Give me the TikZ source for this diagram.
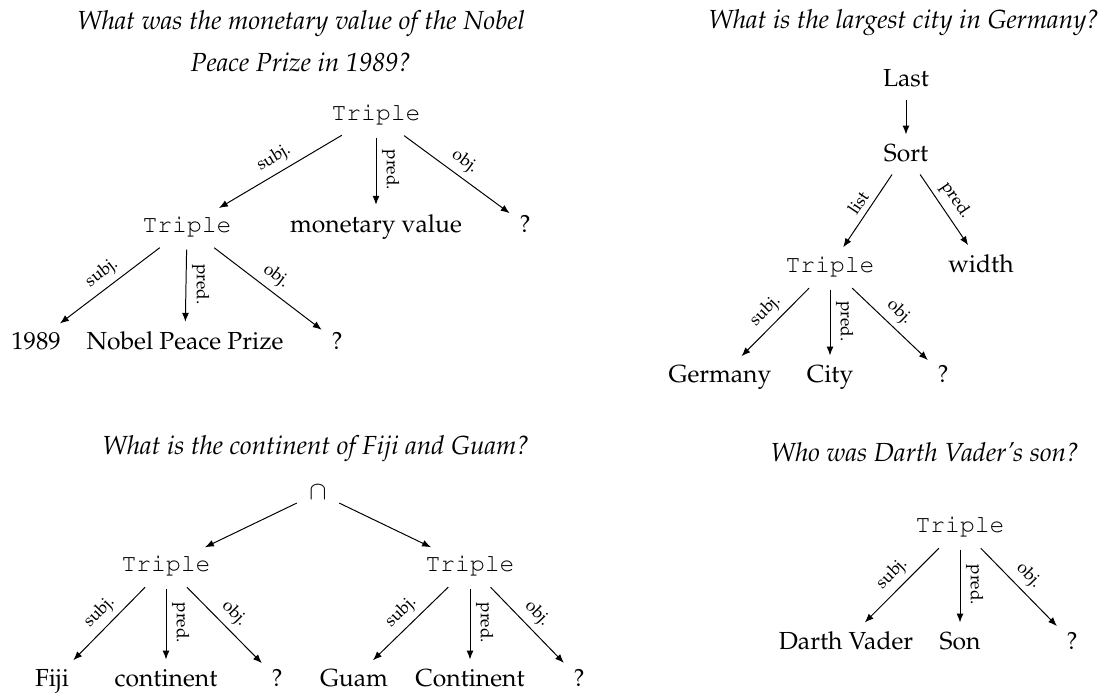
\documentclass[tikz,border=0pt]{standalone}
\usepackage[T1]{fontenc}
\usepackage{mathpazo}
\usepackage{courier}
\usetikzlibrary{arrows.meta}

\begin{document}
\begin{tikzpicture}[x=0.405pt, y=-0.405pt,
  every node/.style={inner sep=3pt},
  leaf/.style={font=\fontsize{10}{12}\selectfont, anchor=base},
  op/.style={font=\fontsize{10}{12}\selectfont\ttfamily, anchor=base},
  ask/.style={font=\fontsize{10.6}{12}\selectfont\itshape, anchor=base, inner sep=0pt},
  lbl/.style={font=\fontsize{7}{8}\selectfont, inner sep=2.2pt},
  link/.style={-{Latex[length=3.6pt, width=2.8pt]}, line width=0.4pt,
               shorten <=2pt, shorten >=1pt},
  vlbl/.style={lbl, midway, rotate=-90, anchor=south}]

\useasboundingbox (0,0) rectangle (1110,695);

% ---- What was the monetary value of the Nobel Peace Prize in 1989?
\node[ask] (q1a) at (301,30) {\makebox[181.4pt][s]{What was the monetary value of the Nobel}};
\node[ask] (q1b) at (301,72) {Peace Prize in 1989?};
\node[op]   (t1)  at (376,121) {Triple};
\node[op]   (t2)  at (187,233) {Triple};
\node[leaf] (mv)  at (376,233) {monetary value};
\node[leaf] (o1)  at (525,233) {?};
\node[leaf] (yr)  at (36,350)  {1989};
\node[leaf] (npp) at (185,350) {Nobel Peace Prize};
\node[leaf] (o2)  at (337,350) {?};
\draw[link] (t1) -- node[lbl, midway, sloped, above] {subj.} (t2);
\draw[link] (t1) -- node[vlbl] {pred.} (mv);
\draw[link] (t1) -- node[lbl, midway, sloped, above] {obj.} (o1);
\draw[link] (t2) -- node[lbl, midway, sloped, above] {subj.} (yr);
\draw[link] (t2) -- node[vlbl] {pred.} (npp);
\draw[link] (t2) -- node[lbl, midway, sloped, above] {obj.} (o2);

% ---- What is the largest city in Germany?
\node[ask] (q2) at (904,29) {What is the largest city in Germany?};
\node[leaf] (last) at (906,87)  {Last};
\node[leaf] (sort) at (906,162) {Sort};
\node[op]   (t3)   at (830,273) {Triple};
\node[leaf] (wd)   at (981,273) {width};
\node[leaf] (ger)  at (720,383) {Germany};
\node[leaf] (city) at (830,383) {City};
\node[leaf] (o3)   at (943,383) {?};
\draw[link] (last) -- (sort);
\draw[link] (sort) -- node[lbl, midway, sloped, above] {list} (t3);
\draw[link] (sort) -- node[lbl, midway, sloped, above] {pred.} (wd);
\draw[link] (t3) -- node[lbl, midway, sloped, above] {subj.} (ger);
\draw[link] (t3) -- node[vlbl] {pred.} (city);
\draw[link] (t3) -- node[lbl, midway, sloped, above] {obj.} (o3);

% ---- What is the continent of Fiji and Guam?
\node[ask] (q3) at (316,455) {What is the continent of Fiji and Guam?};
\node[leaf] (cap) at (318,500) {$\cap$};
\node[op]   (t4)  at (166,572) {Triple};
\node[op]   (t5)  at (470,572) {Triple};
\node[leaf] (fiji) at (52,687)  {Fiji};
\node[leaf] (cnt)  at (166,687) {continent};
\node[leaf] (o4)   at (277,687) {?};
\node[leaf] (guam) at (354,687) {Guam};
\node[leaf] (Cnt)  at (470,687) {Continent};
\node[leaf] (o5)   at (579,687) {?};
\draw[link] (cap) -- (t4);
\draw[link] (cap) -- (t5);
\draw[link] (t4) -- node[lbl, midway, sloped, above] {subj.} (fiji);
\draw[link] (t4) -- node[vlbl] {pred.} (cnt);
\draw[link] (t4) -- node[lbl, midway, sloped, above] {obj.} (o4);
\draw[link] (t5) -- node[lbl, midway, sloped, above] {subj.} (guam);
\draw[link] (t5) -- node[vlbl] {pred.} (Cnt);
\draw[link] (t5) -- node[lbl, midway, sloped, above] {obj.} (o5);

% ---- Who was Darth Vader's son?
\node[ask] (q4) at (925,462) {Who was Darth Vader's son?};
\node[op]   (t6)  at (960,533) {Triple};
\node[leaf] (dv)  at (846,650) {Darth Vader};
\node[leaf] (son) at (960,650) {Son};
\node[leaf] (o6)  at (1072,650) {?};
\draw[link] (t6) -- node[lbl, midway, sloped, above] {subj.} (dv);
\draw[link] (t6) -- node[vlbl] {pred.} (son);
\draw[link] (t6) -- node[lbl, midway, sloped, above] {obj.} (o6);
\end{tikzpicture}
\end{document}
